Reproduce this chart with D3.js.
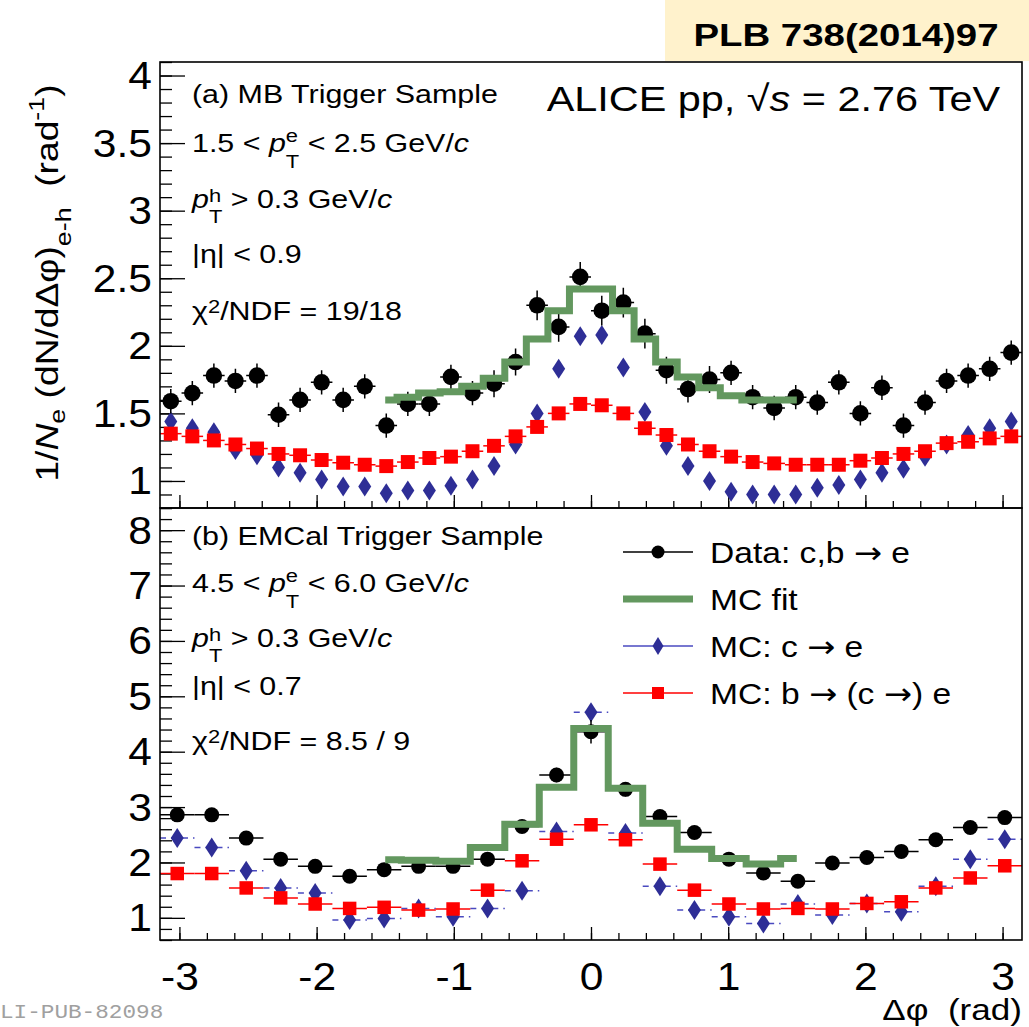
<!DOCTYPE html>
<html>
<head>
<meta charset="utf-8">
<script src="https://cdn.jsdelivr.net/npm/d3@7"></script>
<style>body{margin:0;background:#fff}</style>
</head>
<body>
<script>
// ---- data ----
// (a) MB trigger, 40 bins over [-pi, pi]
var dataA  = [1.59,1.65,1.78,1.74,1.78,1.49,1.60,1.73,1.60,1.70,1.41,1.57,1.57,1.77,1.65,1.72,1.88,2.30,2.14,2.51,
              2.26,2.32,2.09,1.82,1.68,1.75,1.80,1.62,1.54,1.62,1.58,1.73,1.50,1.69,1.41,1.58,1.74,1.78,1.83,1.95];
var errA   = [0.09,0.09,0.09,0.09,0.09,0.09,0.09,0.09,0.09,0.09,0.09,0.09,0.09,0.09,0.09,0.10,0.10,0.11,0.11,0.11,
              0.11,0.11,0.11,0.10,0.10,0.10,0.09,0.09,0.09,0.09,0.09,0.09,0.09,0.09,0.09,0.09,0.09,0.09,0.09,0.09];
var mcbA   = [1.35,1.33,1.30,1.27,1.24,1.20,1.19,1.155,1.135,1.12,1.11,1.14,1.17,1.18,1.22,1.26,1.33,1.40,1.50,1.57,
              1.56,1.50,1.39,1.34,1.27,1.22,1.18,1.14,1.13,1.12,1.12,1.12,1.15,1.17,1.20,1.22,1.28,1.29,1.315,1.33];
var mccA   = [1.44,1.39,1.36,1.23,1.19,1.10,1.06,1.01,0.96,0.96,0.91,0.93,0.93,0.965,1.01,1.11,1.27,1.50,1.83,2.07,
              2.08,1.84,1.51,1.26,1.11,1.00,0.92,0.90,0.90,0.90,0.95,0.97,1.01,1.06,1.09,1.18,1.27,1.34,1.39,1.44];
var fitA   = [1.60,1.62,1.65,1.66,1.70,1.76,1.88,2.05,2.26,2.42,2.42,2.26,2.05,1.88,1.77,1.69,1.63,1.60,1.60,1.60];
var fitStartA = 10;   // first bin of the fit histogram

// (b) EMCal trigger, 25 bins over [-pi, pi]
var dataB  = [2.86,2.86,2.44,2.06,1.93,1.75,1.87,1.93,1.93,2.06,2.65,3.58,4.36,3.32,2.83,2.54,2.06,1.81,1.66,1.99,
              2.09,2.20,2.41,2.63,2.81];
var errB   = [0.06,0.06,0.06,0.06,0.06,0.06,0.06,0.06,0.06,0.07,0.10,0.13,0.21,0.13,0.10,0.07,0.06,0.06,0.06,0.06,
              0.06,0.06,0.06,0.06,0.06];
var mcbB   = [1.80,1.80,1.54,1.36,1.25,1.17,1.19,1.14,1.16,1.50,2.03,2.42,2.68,2.41,1.97,1.50,1.25,1.16,1.17,1.16,
              1.26,1.29,1.54,1.72,1.94];
var mccB   = [2.44,2.27,1.85,1.54,1.45,0.96,0.99,1.17,1.02,1.17,1.49,2.56,4.71,2.53,1.57,1.14,1.02,0.90,1.25,1.05,
              1.26,1.11,1.57,2.06,2.42];
var fitB   = [2.05,2.04,2.02,2.27,2.69,3.36,4.42,3.34,2.71,2.24,2.07,1.97,2.07];
var fitStartB = 6;
var fitRange = [-1.5, 1.5];

var xTicks  = [-3, -2, -1, 0, 1, 2, 3];
var yTicksA = [1, 1.5, 2, 2.5, 3, 3.5, 4];
var yTicksB = [1, 2, 3, 4, 5, 6, 7, 8];

var ARROW = {t: "\u2192", arrow: true};
var legendLabels = [
    ["Data: c,b ", ARROW, " e"],
    ["MC fit"],
    ["MC: c ", ARROW, " e"],
    ["MC: b ", ARROW, " (c ", ARROW, ") e"]
];

// ---- layout ----
var width = 1029, height = 1027;
var FONT = "'Liberation Sans', Arial, Helvetica, sans-serif";
var SX = 1.17;
var xL = 160, xR = 1022;
var cBlack = "#000", cRed = "#ff0000", cBlue = "#2e2e96", cBlueLine = "#4a4ac0", cGreen = "#63985f";

var svg = d3.select("body").append("svg")
    .attr("width", width)
    .attr("height", height);

var x = d3.scaleLinear().domain([-Math.PI, Math.PI]).range([xL, xR]);
var yA = d3.scaleLinear().domain([0.8, 4.1]).range([508, 62]);
var yB = d3.scaleLinear().domain([0.6, 8.4]).range([940, 508]);

// text with sub/superscripts, stretched a little horizontally like the original font
function richText(parent, px, py, parts, o) {
    var t = parent.append("text")
        .attr("transform", "translate(" + px + "," + py + ")" + (o.rot ? " rotate(" + o.rot + ")" : "") + " scale(" + (o.sx || SX) + ",1)")
        .attr("font-family", o.family || FONT)
        .attr("font-size", o.size)
        .attr("text-anchor", o.anchor || "start")
        .attr("fill", o.fill || "#000")
        .style("white-space", "pre");
    if (o.weight) t.attr("font-weight", o.weight);
    var shift = 0, supLen = 0;
    parts.forEach(function(p) {
        if (typeof p === "string") p = {t: p};
        var ts = t.append("tspan").text(p.t);
        var target = 0, fs = o.size;
        if (p.sup) { target = (p.shift != null ? p.shift : -0.3) * o.size; fs = o.size * 0.72; }
        if (p.sub) { target = (p.shift != null ? p.shift : 0.28) * o.size; fs = o.size * 0.72; }
        if (target - shift !== 0) ts.attr("dy", target - shift);
        shift = target;
        if (fs !== o.size) ts.attr("font-size", fs);
        if (p.it) ts.attr("font-style", "italic");
        if (p.arrow) ts.attr("font-family", "'DejaVu Sans', sans-serif");
        if (p.back) ts.attr("dx", -supLen);
        if (p.sup) supLen = ts.node().getComputedTextLength();
    });
    return t;
}

function steps(lo, hi, step) {
    return d3.range(Math.ceil(lo / step - 1e-6), Math.floor(hi / step + 1e-6) + 1).map(function(k) { return +(k * step).toFixed(6); });
}

function drawPanel(y, bins, blue, red, black, blackErr, fit, fitStart, o) {
    var g = svg.append("g");
    var bw = 2 * Math.PI / bins;
    var cx = function(i) { return -Math.PI + (i + 0.5) * bw; };
    var half = x(bw / 2) - x(0);

    // y ticks
    var yMin = g.append("g").attr("transform", "translate(" + xL + ",0)")
        .call(d3.axisLeft(y).tickValues(steps(y.domain()[0], y.domain()[1], o.yMinor)).tickSize(-12).tickFormat(""));
    yMin.select(".domain").remove();
    var yMaj = g.append("g").attr("transform", "translate(" + xL + ",0)")
        .call(d3.axisLeft(y).tickValues(o.yTicks).tickSizeInner(-25).tickSizeOuter(0).tickPadding(8).tickFormat(function(d) { return d; }));
    yMaj.select(".domain").remove();
    yMaj.selectAll("text").attr("x", null).attr("dy", null)
        .attr("transform", "translate(-8,13) scale(1.12,1)")
        .attr("font-size", 38).attr("font-family", FONT).attr("fill", "#000");

    // x ticks at the panel bottom
    var yb = y.range()[0];
    var xMin = g.append("g").attr("transform", "translate(0," + yb + ")")
        .call(d3.axisBottom(x).tickValues(steps(-Math.PI, Math.PI, 0.2)).tickSize(-7).tickFormat(""));
    xMin.select(".domain").remove();
    var xMaj = g.append("g").attr("transform", "translate(0," + yb + ")")
        .call(d3.axisBottom(x).tickValues(xTicks).tickSizeInner(-13).tickSizeOuter(0).tickFormat(o.xLabels ? function(d) { return d; } : ""));
    xMaj.select(".domain").remove();
    xMaj.selectAll("text").attr("y", null).attr("dy", null)
        .attr("transform", "translate(0,50) scale(1.12,1)")
        .attr("font-size", 38).attr("font-family", FONT).attr("fill", "#000");
    g.selectAll(".tick line").attr("stroke-width", 1.3);

    // MC c -> e (blue diamonds)
    if (o.blueBars) {
        g.append("g").selectAll("line").data(blue).join("line")
            .attr("x1", function(d, i) { return x(cx(i)) - half; })
            .attr("x2", function(d, i) { return x(cx(i)) + half; })
            .attr("y1", function(d) { return y(d); }).attr("y2", function(d) { return y(d); })
            .attr("stroke", cBlueLine).attr("stroke-width", 1.5).attr("stroke-dasharray", "6,5");
    }
    g.append("g").selectAll("path").data(blue).join("path")
        .attr("transform", function(d, i) { return "translate(" + x(cx(i)) + "," + y(d) + ")"; })
        .attr("d", "M0,-10L6.5,0L0,10L-6.5,0Z")
        .attr("fill", cBlue);

    // MC b -> (c ->) e (red squares)
    g.append("g").selectAll("line").data(red).join("line")
        .attr("x1", function(d, i) { return x(cx(i)) - half; })
        .attr("x2", function(d, i) { return x(cx(i)) + half; })
        .attr("y1", function(d) { return y(d); }).attr("y2", function(d) { return y(d); })
        .attr("stroke", cRed).attr("stroke-width", 1.5);
    g.append("g").selectAll("rect").data(red).join("rect")
        .attr("x", function(d, i) { return x(cx(i)) - o.sq / 2; })
        .attr("y", function(d) { return y(d) - o.sq / 2; })
        .attr("width", o.sq).attr("height", o.sq)
        .attr("fill", cRed);

    // data (black circles with error bars)
    g.append("g").selectAll("path").data(black).join("path")
        .attr("d", function(d, i) {
            var px = x(cx(i)), py = y(d);
            return "M" + (px - half) + "," + py + "H" + (px + half) +
                   "M" + px + "," + y(d + blackErr[i]) + "V" + y(d - blackErr[i]);
        })
        .attr("stroke", cBlack).attr("stroke-width", 1.5).attr("fill", "none");
    g.append("g").selectAll("circle").data(black).join("circle")
        .attr("cx", function(d, i) { return x(cx(i)); })
        .attr("cy", function(d) { return y(d); })
        .attr("r", o.r)
        .attr("fill", cBlack);

    // MC fit step line
    var pts = fit.map(function(v, k) {
        var lo = -Math.PI + (fitStart + k) * bw;
        return [Math.max(lo, fitRange[0]), v];
    });
    pts.push([Math.min(-Math.PI + (fitStart + fit.length) * bw, fitRange[1]), fit[fit.length - 1]]);
    g.append("path")
        .attr("d", d3.line().x(function(d) { return x(d[0]); }).y(function(d) { return y(d[1]); }).curve(d3.curveStepAfter)(pts))
        .attr("fill", "none").attr("stroke", cGreen).attr("stroke-width", 7);

    // frame
    g.append("rect")
        .attr("x", xL).attr("y", y.range()[1])
        .attr("width", xR - xL).attr("height", y.range()[0] - y.range()[1])
        .attr("fill", "none").attr("stroke", "#000").attr("stroke-width", 1.6);
    return g;
}

drawPanel(yA, 40, mccA, mcbA, dataA, errA, fitA, fitStartA,
    {yTicks: yTicksA, yMinor: 0.1, sq: 14, r: 8.3, blueBars: false, xLabels: false});
drawPanel(yB, 25, mccB, mcbB, dataB, errB, fitB, fitStartB,
    {yTicks: yTicksB, yMinor: 0.2, sq: 13.5, r: 7.5, blueBars: true, xLabels: true});

// ---- annotations, panel (a) ----
var ann = svg.append("g");
var s1 = 26;
richText(ann, 192, 103, ["(a) MB Trigger Sample"], {size: s1});
richText(ann, 192, 152, ["1.5 < ", {t: "p", it: true}, {t: "e", sup: true, shift: -0.38}, {t: "T", sub: true, shift: 0.6, back: true}, " < 2.5 GeV/", {t: "c", it: true}], {size: s1});
richText(ann, 192, 208, [{t: "p", it: true}, {t: "h", sup: true, shift: -0.25}, {t: "T", sub: true, shift: 0.58, back: true}, " > 0.3 GeV/", {t: "c", it: true}], {size: s1});
richText(ann, 192, 263, ["|\u03b7| < 0.9"], {size: s1});
richText(ann, 192, 320, ["\u03c7", {t: "2", sup: true, shift: -0.28}, "/NDF = 19/18"], {size: s1});
richText(ann, 1000, 111, ["ALICE pp, \u221a", {t: "s", it: true}, " = 2.76 TeV"], {size: 36, anchor: "end", sx: 1.15});

// ---- annotations, panel (b) ----
richText(ann, 192, 545, ["(b) EMCal Trigger Sample"], {size: s1});
richText(ann, 192, 592, ["4.5 < ", {t: "p", it: true}, {t: "e", sup: true, shift: -0.38}, {t: "T", sub: true, shift: 0.6, back: true}, " < 6.0 GeV/", {t: "c", it: true}], {size: s1});
richText(ann, 192, 647, [{t: "p", it: true}, {t: "h", sup: true, shift: -0.25}, {t: "T", sub: true, shift: 0.58, back: true}, " > 0.3 GeV/", {t: "c", it: true}], {size: s1});
richText(ann, 192, 695, ["|\u03b7| < 0.7"], {size: s1});
richText(ann, 192, 750, ["\u03c7", {t: "2", sup: true, shift: -0.28}, "/NDF = 8.5 / 9"], {size: s1});

// ---- legend ----
var leg = svg.append("g");
var rowY = [552, 599, 646, 693];
var lx0 = 623, lx1 = 693, lxm = 658;
leg.append("line").attr("x1", lx0).attr("x2", lx1).attr("y1", rowY[0]).attr("y2", rowY[0]).attr("stroke", cBlack).attr("stroke-width", 1.5);
leg.append("circle").attr("cx", lxm).attr("cy", rowY[0]).attr("r", 6.5).attr("fill", cBlack);
leg.append("line").attr("x1", lx0).attr("x2", lx1).attr("y1", rowY[1]).attr("y2", rowY[1]).attr("stroke", cGreen).attr("stroke-width", 7);
leg.append("line").attr("x1", lx0).attr("x2", lx1).attr("y1", rowY[2]).attr("y2", rowY[2]).attr("stroke", cBlueLine).attr("stroke-width", 1.5);
leg.append("path").attr("transform", "translate(" + lxm + "," + rowY[2] + ")").attr("d", "M0,-9L5.5,0L0,9L-5.5,0Z").attr("fill", cBlue);
leg.append("line").attr("x1", lx0).attr("x2", lx1).attr("y1", rowY[3]).attr("y2", rowY[3]).attr("stroke", cRed).attr("stroke-width", 1.5);
leg.append("rect").attr("x", lxm - 6).attr("y", rowY[3] - 6).attr("width", 12).attr("height", 12).attr("fill", cRed);
legendLabels.forEach(function(parts, i) {
    richText(leg, 710, rowY[i] + 11, parts, {size: 30, sx: 1.12});
});

// ---- axis titles ----
richText(svg, 1022, 1020, ["\u0394\u03c6  (rad)"], {size: 30, anchor: "end", sx: 1.17});
richText(svg, 58, 283, ["1/", {t: "N", it: true}, {t: "e", sub: true, shift: 0.22}, " (dN/d\u0394\u03c6)", {t: "e-h", sub: true, shift: 0.42},
    "  (rad", {t: "-1", sup: true, shift: -0.45}, ")"], {size: 31, anchor: "middle", rot: -90, sx: 1.2});

// ---- reference box and watermark ----
svg.append("rect").attr("x", 665).attr("y", 0).attr("width", 364).attr("height", 61).attr("fill", "#fff2cc");
richText(svg, 846, 46, ["PLB 738(2014)97"], {size: 32, anchor: "middle", weight: "bold", sx: 1.2});
richText(svg, 0, 1018, ["LI-PUB-82098"], {size: 21, family: "'Liberation Mono', 'DejaVu Sans Mono', monospace", fill: "#a0a0a0", sx: 1.08});
</script>
</body>
</html>
